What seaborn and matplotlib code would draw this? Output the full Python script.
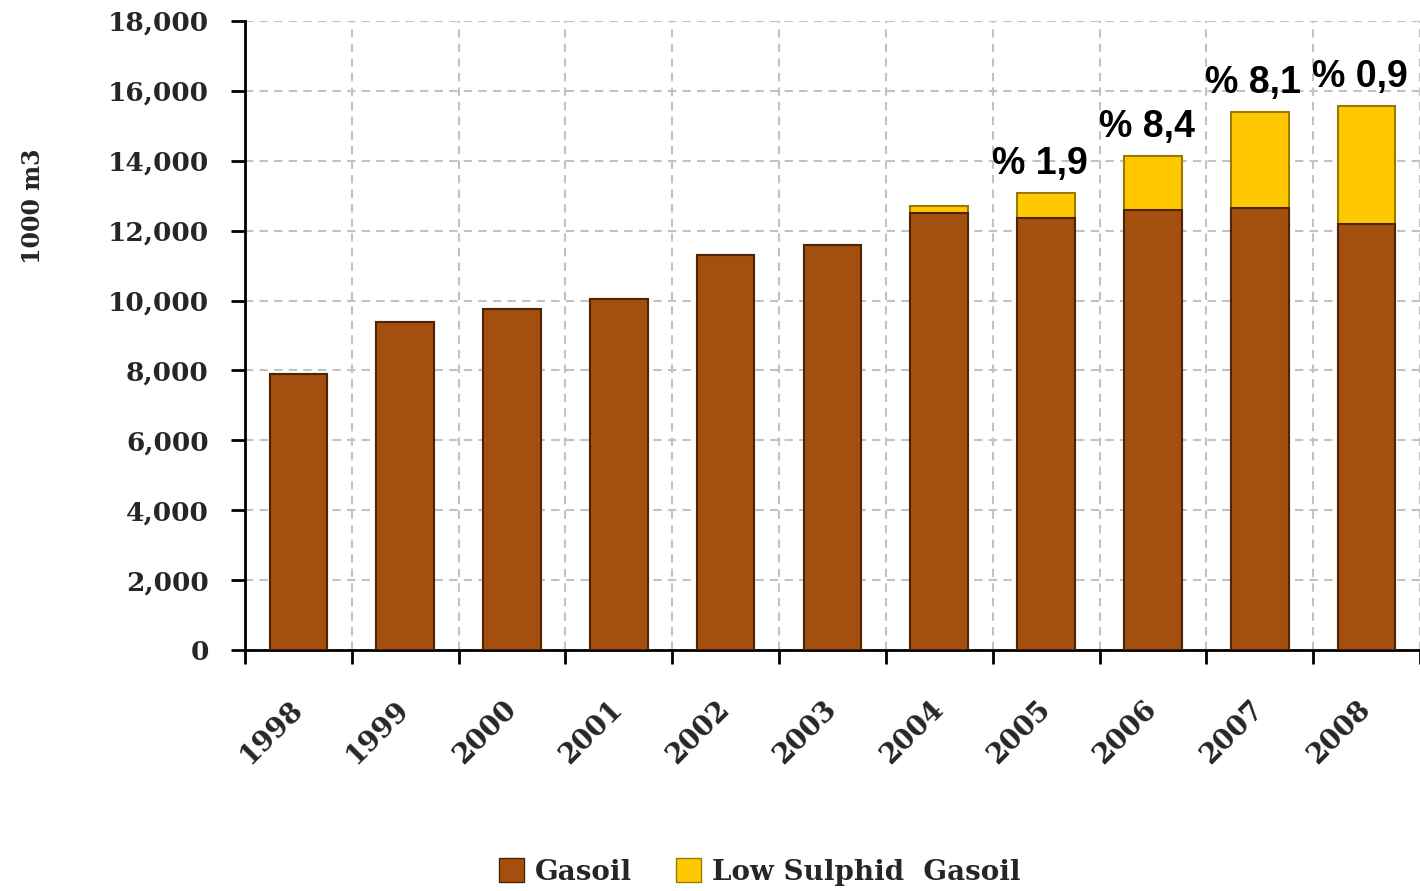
import numpy as np
import pandas as pd
import matplotlib.pyplot as plt
import seaborn as sns

# values (1000 m3)
years = ["1998", "1999", "2000", "2001", "2002", "2003",
         "2004", "2005", "2006", "2007", "2008"]
gasoil = [7900, 9400, 9750, 10050, 11300, 11600,
          12500, 12350, 12600, 12650, 12200]
low_sulphid = [0, 0, 0, 0, 0, 0,
               200, 730, 1550, 2750, 3380]
share_labels = ["", "", "", "", "", "", "", "% 1,9", "% 8,4", "% 8,1", "% 0,9"]

brown = "#A24F0F"
yellow = "#FFC800"

df = pd.DataFrame({"year": years, "gasoil": gasoil, "lsg": low_sulphid})
df["total"] = df["gasoil"] + df["lsg"]

sns.set_theme(style="white")
plt.rcParams["font.family"] = ["DejaVu Serif"]

fig = plt.figure(figsize=(14.2, 8.91), dpi=100)
ax = fig.add_axes([0.1725, 0.2705, 0.8275, 0.7059])

# stacked bars: total (yellow) first, gasoil (brown) on top of it
sns.barplot(data=df, x="year", y="total", color=yellow, saturation=1,
            width=0.54, edgecolor="#9C7A00", linewidth=1.5, ax=ax, zorder=3)
sns.barplot(data=df, x="year", y="gasoil", color=brown, saturation=1,
            width=0.54, edgecolor="#4E2404", linewidth=1.5, ax=ax, zorder=3)

# percentage labels above the stacked bars
for i, lab in enumerate(share_labels):
    if lab:
        ax.text(i - 0.06, df["total"][i] + 300, lab, ha="center", va="bottom",
                fontsize=27, fontweight="bold", family="Liberation Sans",
                color="black", zorder=4)

ax.set_ylim(0, 18000)
ax.set_xlim(-0.5, 10.45)
ax.set_yticks(np.arange(0, 18001, 2000))
ax.yaxis.set_major_formatter(plt.FuncFormatter(lambda v, p: f"{int(v):,}"))
ax.set_xticks(np.arange(-0.5, 11, 1), minor=True)

ax.grid(axis="y", which="major", color="#C2C2C2", linestyle=(0, (4, 3)), linewidth=1.5, zorder=0)
ax.grid(axis="x", which="minor", color="#C2C2C2", linestyle=(0, (4, 3)), linewidth=1.5, zorder=0)
ax.set_axisbelow(True)

for s in ["top", "right"]:
    ax.spines[s].set_visible(False)
for s in ["left", "bottom"]:
    ax.spines[s].set_color("black")
    ax.spines[s].set_linewidth(2)

ax.tick_params(axis="y", which="major", direction="out", length=10, width=2,
               color="black", left=True, pad=16, labelsize=19)
ax.tick_params(axis="x", which="major", length=0, pad=40, labelsize=20)
ax.tick_params(axis="x", which="minor", direction="out", length=10, width=2,
               color="black", bottom=True)
for t in ax.get_yticklabels():
    t.set_fontweight("bold")
for t in ax.get_xticklabels():
    t.set_fontweight("bold")
    t.set_rotation(45)
    t.set_ha("right")
    t.set_va("center")
    t.set_rotation_mode("anchor")

ax.set_xlabel("")
ax.set_ylabel("1000 m3", fontsize=17, fontweight="bold")
ax.yaxis.set_label_coords(-0.17, 0.705)

handles = [plt.Rectangle((0, 0), 1, 1, facecolor=brown, edgecolor="#4E2404"),
           plt.Rectangle((0, 0), 1, 1, facecolor=yellow, edgecolor="#9C7A00")]
fig.legend(handles, ["Gasoil", "Low Sulphid  Gasoil"], loc="lower center",
           bbox_to_anchor=(0.535, -0.022), ncol=2, frameon=False,
           prop={"weight": "bold", "size": 20}, handlelength=0.9, handleheight=0.9,
           handletextpad=0.4, columnspacing=1.6)

fig.savefig("out.png", dpi=100)
